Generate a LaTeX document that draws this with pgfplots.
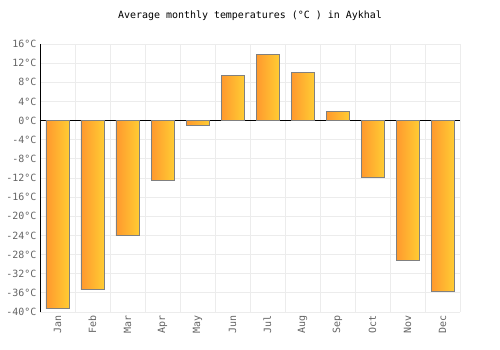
\documentclass[border=0pt]{standalone}
\usepackage{pgfplots}
\pgfplotsset{compat=1.18}
\usepackage{fontspec}
\setmainfont{DejaVu Sans Mono}
\definecolor{barL}{RGB}{255,152,46}
\definecolor{barR}{RGB}{255,204,51}
\definecolor{gridc}{RGB}{236,236,236}
\definecolor{txt}{RGB}{100,100,100}
\definecolor{edge}{RGB}{128,128,128}
\tikzset{barsty/.style={draw=edge, line width=0.75bp, left color=barL, right color=barR}}
\begin{document}
\begin{tikzpicture}
\begin{axis}[
  scale only axis, width=420bp, height=268bp,
  xmin=-0.5, xmax=11.5, ymin=-40, ymax=16,
  ytick={-40,-36,...,16},
  yticklabels={-40°C,-36°C,-32°C,-28°C,-24°C,-20°C,-16°C,-12°C,-8°C,-4°C,0°C,4°C,8°C,12°C,16°C},
  xtick={0,...,11},
  xticklabels={Jan,Feb,Mar,Apr,May,Jun,Jul,Aug,Sep,Oct,Nov,Dec},
  x tick label style={rotate=90, anchor=east, font=\fontsize{10}{12}\selectfont, color=txt},
  y tick label style={font=\fontsize{10}{12}\selectfont, color=txt},
  minor xtick={-0.5,0.5,...,11.5},
  xminorgrids, ymajorgrids,
  grid style={gridc, line width=0.8bp},
  minor grid style={gridc, line width=0.8bp},
  major tick length=0, minor tick length=0,
  axis x line*=bottom, axis y line*=left,
  x axis line style={draw=none},
  y axis line style={black, line width=0.8bp, -},
  extra y ticks={0}, extra y tick labels={},
  extra y tick style={grid style={black, line width=0.8bp}},
  ybar, bar width=23bp, bar shift=0pt,
  title={Average monthly temperatures (°C ) in Aykhal},
  title style={font=\fontsize{10}{12}\selectfont, at={(0.5,1)}, anchor=base, yshift=20bp},
]
\addplot[barsty] coordinates {(0,-39.2)};
\addplot[barsty] coordinates {(1,-35.2)};
\addplot[barsty] coordinates {(2,-24.0)};
\addplot[barsty] coordinates {(3,-12.5)};
\addplot[barsty] coordinates {(4,-1.0)};
\addplot[barsty] coordinates {(5,9.5)};
\addplot[barsty] coordinates {(6,13.9)};
\addplot[barsty] coordinates {(7,10.1)};
\addplot[barsty] coordinates {(8,2.0)};
\addplot[barsty] coordinates {(9,-11.8)};
\addplot[barsty] coordinates {(10,-29.3)};
\addplot[barsty] coordinates {(11,-35.7)};
\end{axis}
\pgfresetboundingbox
\path[use as bounding box] (-40bp,-38bp) rectangle (460bp,312bp);
\end{tikzpicture}
\end{document}
